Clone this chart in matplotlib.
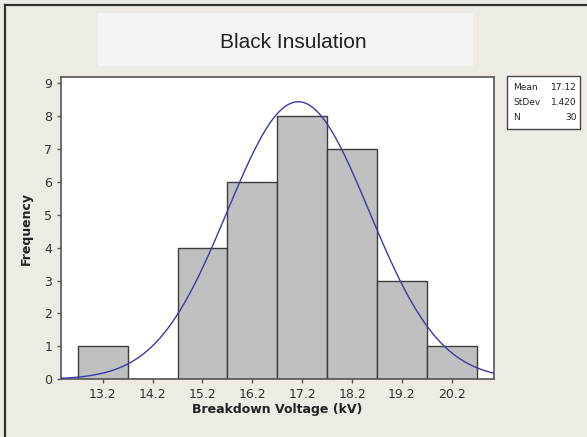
import numpy as np
import matplotlib.pyplot as plt
from matplotlib.patches import Rectangle
from matplotlib.lines import Line2D

# histogram data
bin_centers = [13.2, 14.2, 15.2, 16.2, 17.2, 18.2, 19.2, 20.2]
counts = [1, 0, 4, 6, 8, 7, 3, 1]
bin_width = 1.0

# summary stats shown in the box
mean = 17.12
stdev = 1.420
n = 30
stat_names = ["Mean", "StDev", "N"]
stat_values = ["17.12", "1.420", "30"]

bg = "#eeebe4"
fig = plt.figure(figsize=(5.87, 4.37), dpi=100, facecolor=bg)

# title panel
fig.patches.append(Rectangle((0.167, 0.849), 0.639, 0.121, transform=fig.transFigure,
                             facecolor="#f4f4f3", edgecolor="none", zorder=0))
fig.text(0.5, 0.902, "Black Insulation", ha="center", va="center",
         fontsize=15, color="#222222", family="Liberation Sans")

# outer frame (top and left edges)
fig.lines.append(Line2D([5 / 587, 1], [1 - 5 / 437, 1 - 5 / 437], transform=fig.transFigure,
                        color="#303030", lw=1.6))
fig.lines.append(Line2D([5 / 587, 5 / 587], [0, 1 - 5 / 437], transform=fig.transFigure,
                        color="#303030", lw=1.6))

ax = fig.add_axes([0.1034, 0.132, 0.739, 0.6918])
ax.set_facecolor("#fffffd")

ax.bar(bin_centers, counts, width=bin_width, color="#c0c0c0",
       edgecolor="#3c3c3c", linewidth=1.0, zorder=2)

x = np.linspace(12.2, 21.2, 400)
y = n * bin_width * np.exp(-0.5 * ((x - mean) / stdev) ** 2) / (stdev * np.sqrt(2 * np.pi))
ax.plot(x, y, color="#3a3aa8", lw=1.0, zorder=3)

ax.set_xlim(12.357, 21.055)
ax.set_ylim(0, 9.18)
ax.set_xticks(bin_centers)
ax.set_xticklabels([f"{c:.1f}" for c in bin_centers])
ax.set_yticks(range(0, 10))

for side in ["top", "right", "bottom", "left"]:
    ax.spines[side].set_color("#555555")
    ax.spines[side].set_linewidth(1.2)
ax.tick_params(direction="out", length=3, width=1, color="#555555",
               labelsize=9, labelcolor="#333333", pad=3)

ax.set_xlabel("Breakdown Voltage (kV)", fontsize=9, fontweight="bold",
              color="#222222", labelpad=2)
ax.set_ylabel("Frequency", fontsize=9, fontweight="bold", color="#222222", labelpad=8)

# stats box
fig.patches.append(Rectangle((0.8637, 0.7048), 0.1244, 0.1213, transform=fig.transFigure,
                             facecolor="white", edgecolor="#444444", lw=1.0))
row_y = [88, 102.5, 117]
for name, val, ry in zip(stat_names, stat_values, row_y):
    fig.text(513 / 587, 1 - ry / 437, name, ha="left", va="center",
             fontsize=6.5, color="#222222")
    fig.text(577 / 587, 1 - ry / 437, val, ha="right", va="center",
             fontsize=6.5, color="#222222")

fig.savefig("out.png", dpi=100, facecolor=bg)
